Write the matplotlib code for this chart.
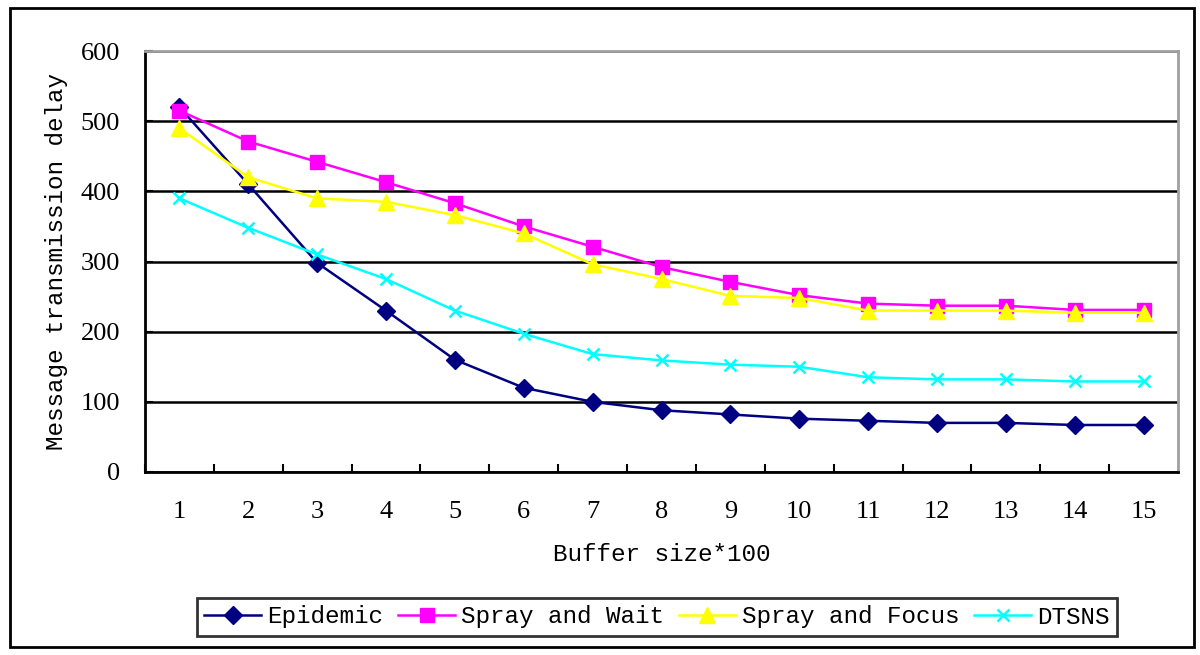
import matplotlib.pyplot as plt
from matplotlib.patches import Rectangle

buffer_sizes = list(range(1, 16))

epidemic = [520, 410, 298, 230, 160, 120, 100, 88, 82, 76, 73, 70, 70, 67, 67]
spray_wait = [515, 471, 442, 413, 383, 350, 321, 292, 271, 252, 240, 237, 237, 231, 231]
spray_focus = [490, 420, 390, 385, 366, 340, 296, 275, 251, 248, 230, 230, 230, 227, 227]
dtsns = [390, 348, 310, 275, 230, 197, 168, 159, 153, 150, 135, 132, 132, 129, 129]

series_names = ["Epidemic", "Spray and Wait", "Spray and Focus", "DTSNS"]
y_ticks = [0, 100, 200, 300, 400, 500, 600]

LABEL_FONT = "Liberation Mono"
TICK_FONT = "Liberation Serif"

fig = plt.figure(figsize=(12, 6.55), dpi=100)
ax = fig.add_axes([145 / 1200, 1 - 472 / 655, 1033 / 1200, 421 / 655])

styles = [
    dict(color="#000080", marker="D", markersize=9),
    dict(color="#FF00FF", marker="s", markersize=9.5),
    dict(color="#FFFF00", marker="^", markersize=11),
    dict(color="#00FFFF", marker="x", markersize=9, markeredgewidth=1.8),
]
all_series = [epidemic, spray_wait, spray_focus, dtsns]

handles = []
for name, values, style in zip(series_names, all_series, styles):
    (h,) = ax.plot(buffer_sizes, values, linewidth=1.8, label=name, **style)
    handles.append(h)

# Excel-like axes: categories centred between tick marks
ax.set_xlim(0.5, 15.5)
ax.set_ylim(0, 600)
ax.set_yticks(y_ticks)
ax.set_xticks(buffer_sizes)
ax.set_xticks([i + 0.5 for i in range(15)], minor=True)
ax.tick_params(axis="x", which="major", length=0, pad=21)
ax.tick_params(axis="x", which="minor", direction="in", length=6, width=1.5)
ax.tick_params(axis="y", direction="in", length=6, width=1.5, pad=18)

for lbl in ax.get_xticklabels() + ax.get_yticklabels():
    lbl.set_fontfamily(TICK_FONT)
    lbl.set_fontsize(19)

ax.grid(axis="y", color="black", linewidth=1.8)
ax.set_axisbelow(True)
for side in ["top", "right"]:
    ax.spines[side].set_color("#a0a0a0")
    ax.spines[side].set_linewidth(2)
for side in ["left", "bottom"]:
    ax.spines[side].set_color("black")
    ax.spines[side].set_linewidth(2)

ax.set_xlabel("Buffer size*100", fontfamily=LABEL_FONT, fontsize=17.5, labelpad=14)
ax.set_ylabel("Message transmission delay", fontfamily=LABEL_FONT, fontsize=17.5, labelpad=9)

leg = fig.legend(
    handles=handles,
    loc="center",
    bbox_to_anchor=(657 / 1200, 1 - 617 / 655),
    ncol=4,
    frameon=True,
    fancybox=False,
    edgecolor="black",
    prop={"family": LABEL_FONT, "size": 17.5},
    handlelength=2.35,
    handletextpad=0.25,
    columnspacing=0.6,
    borderpad=0.3,
    borderaxespad=0,
)
leg.get_frame().set_linewidth(2)

# outer chart border
fig.patches.append(
    Rectangle((10 / 1200, 8 / 655), 1184 / 1200, 639 / 655,
              transform=fig.transFigure, fill=False, edgecolor="black", linewidth=2)
)

fig.savefig("out.png", dpi=100)
